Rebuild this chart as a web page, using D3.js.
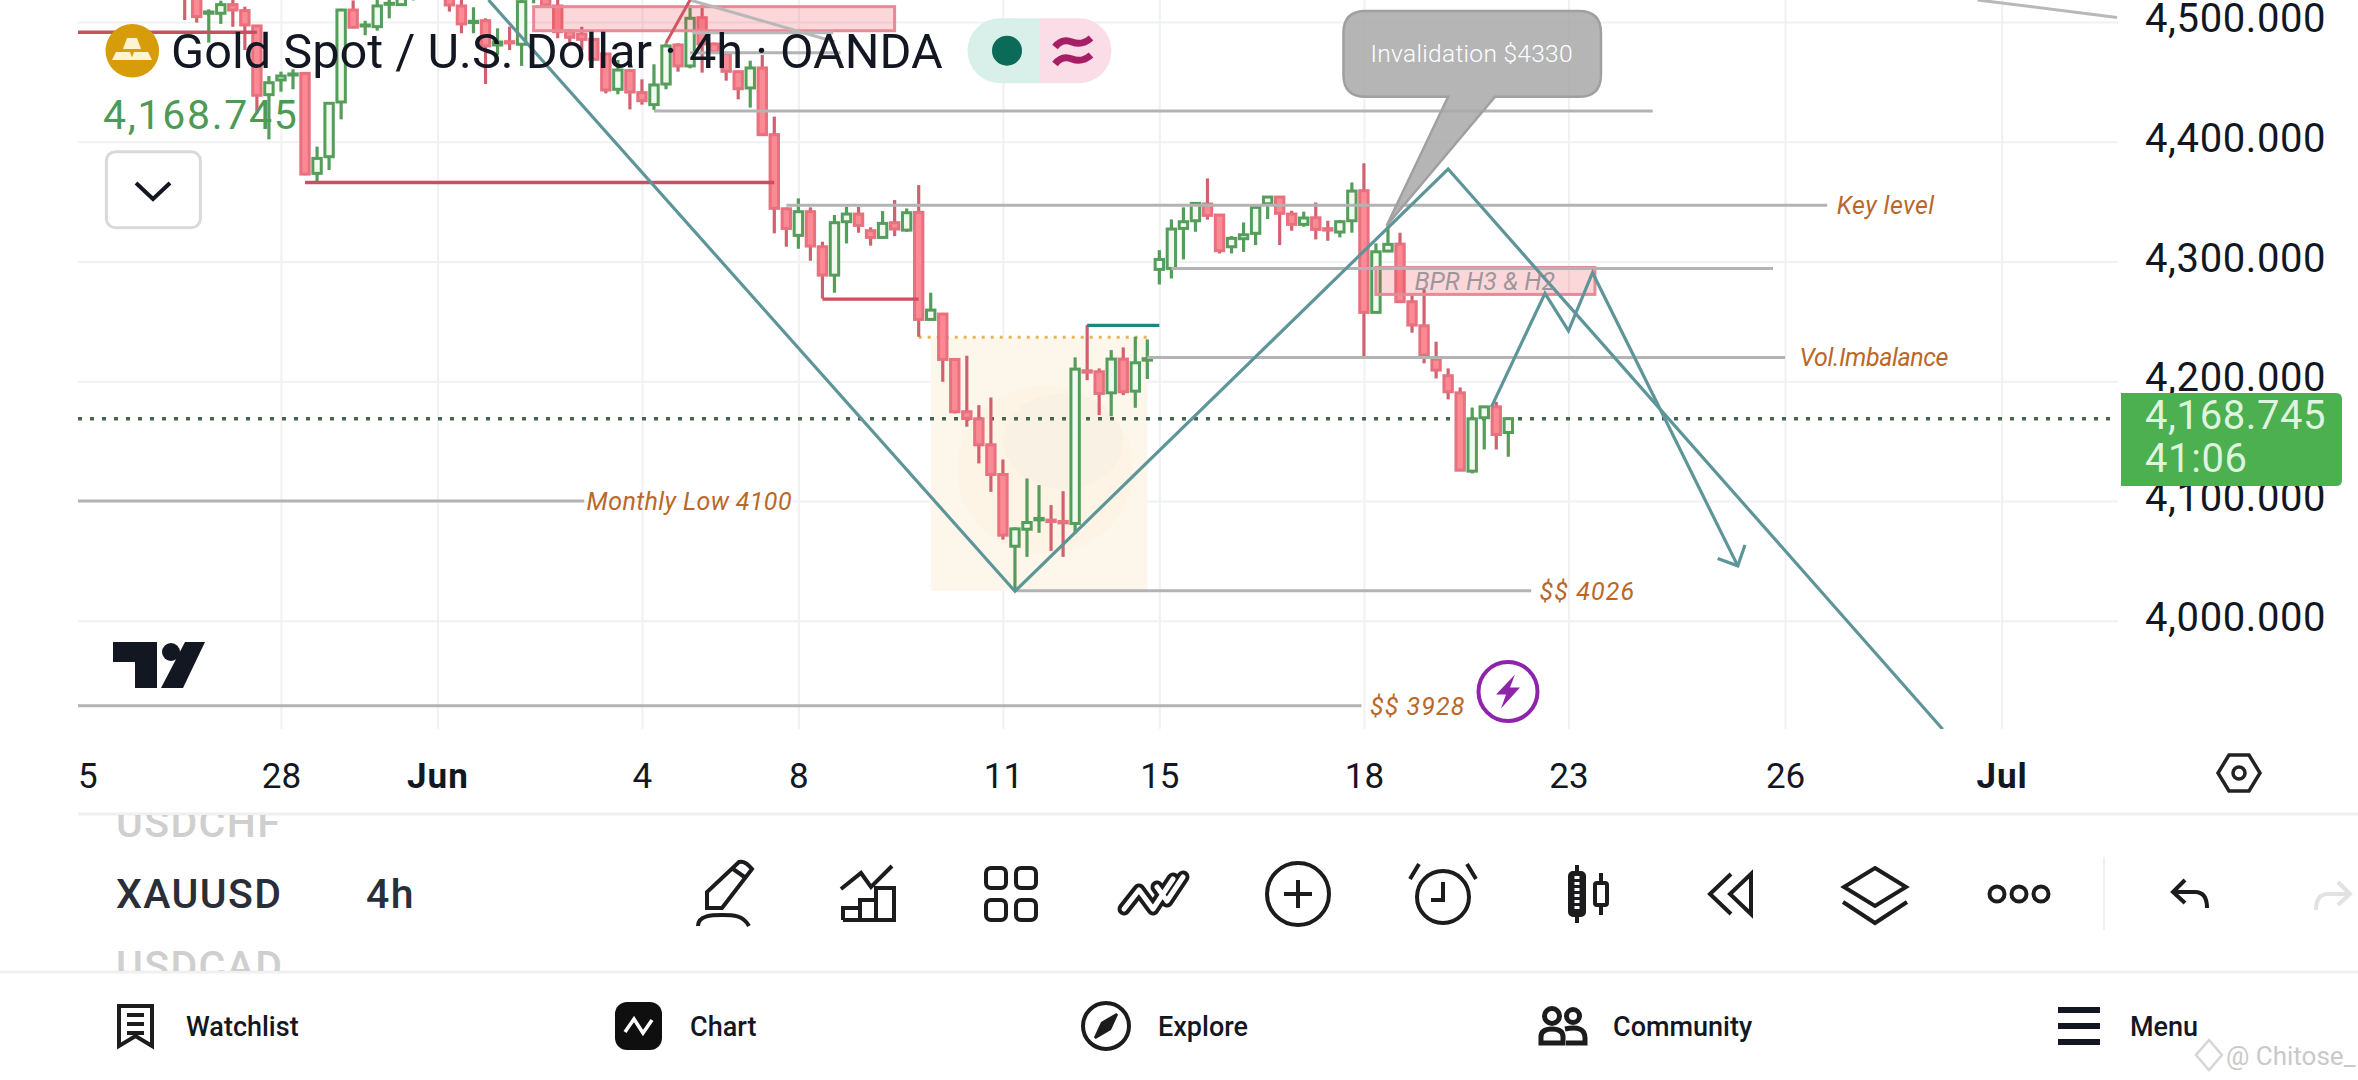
<!DOCTYPE html>
<html>
<head>
<meta charset="utf-8">
<script src="https://cdn.jsdelivr.net/npm/d3@7/dist/d3.min.js"></script>
<style>
  html, body { margin: 0; padding: 0; background: #fff; overflow: hidden; }
  text { font-family: Roboto, sans-serif; }
</style>
</head>
<body>
<div id="chart"></div>
<script>
// candles, 4h bars (bar 0 is the first one on the left)
const opens = [4550,4530,4507.3,4507.3,4514.5,4509.5,4496.7,4439.3,4451.6,4456,4457.1,4373.6,4387.5,4433.2,4510,4497,4496.1,4515,4514.5,4522,4530,4540,4522,4513.4,4499.5,4501.1,4480.8,4483.6,4481.4,4520,4522,4513.4,4492.5,4490,4485.5,4473.3,4443.8,4459.4,4441,4431,4448.2,4480.8,4463.3,4503.6,4481.6,4473.8,4458.5,4444.9,4461.6,4405.9,4344,4321.8,4341.6,4312.3,4288.6,4333.2,4339.6,4325.7,4320.1,4332.4,4326.2,4341,4251.6,4256.1,4218.2,4174.5,4168.6,4146.9,4122.1,4062.2,4076.4,4084.2,4084,4082.8,4081.2,4208.7,4207.9,4190.3,4218.5,4191.7,4217.6,4293.4,4294.2,4327.6,4334,4348,4338.8,4312.3,4319,4323.5,4348.2,4353.8,4339.6,4331,4336.5,4327.4,4324.6,4334,4359.1,4257.5,4308.7,4314.5,4266.4,4246.3,4218.5,4204.6,4190.3,4124.9,4169.5,4178.6,4157.2];
const highs = [4560,4535,4510.6,4517.8,4520,4512.8,4497,4454.9,4458.5,4460.5,4458,4395.9,4433,4511,4518,4501,4519,4522,4530,4535,4545,4548,4530,4520,4512.3,4503.1,4494.7,4496.1,4520,4530,4530,4520,4494,4496,4486.5,4474,4468.3,4460,4452.1,4464.7,4482.2,4482.2,4514.2,4514.2,4482.8,4475.2,4459.4,4467.7,4472.4,4421,4345,4352.7,4345.2,4316.5,4338.8,4345.7,4345.7,4328.5,4342.1,4351.3,4344.3,4363.8,4273.9,4257,4219,4221.3,4180,4186.4,4134.6,4078,4118.8,4113.2,4096.5,4108.2,4219.9,4246.9,4210.7,4226,4228.2,4237.1,4234.9,4309.5,4335.1,4345.2,4349.6,4369.4,4339.4,4321.2,4332.6,4345.7,4354,4354.6,4342.4,4341.6,4349.3,4334,4334.6,4366,4382,4315.1,4330.4,4324,4273.3,4276.7,4233,4210.7,4194.8,4178,4179,4182.8,4170];
const lows = [4501.7,4499.5,4482.8,4498.4,4496,4476.6,4423.7,4402,4441.8,4443.8,4372,4366.6,4376.4,4418.7,4494.8,4489,4492.8,4503.1,4513.4,4518,4525,4528,4508.7,4490.6,4490.6,4448.2,4472.5,4476.6,4463.3,4515.6,4512.8,4486.4,4482.8,4476.6,4468,4440.4,4439.6,4427,4431,4426.5,4443.8,4458.5,4461.3,4457.7,4473.8,4451,4435.4,4428.5,4405.5,4323.5,4312.3,4310.6,4300.6,4269,4273.9,4315.1,4324,4313.2,4319.3,4321.2,4324.8,4237.1,4251,4199.5,4173.1,4162,4131.3,4107.6,4067.8,4025,4053.3,4073.4,4058.3,4053.3,4072.8,4200.9,4171.7,4170.8,4188.4,4177.8,4201.8,4280.8,4285.8,4301.7,4324.8,4335,4306.7,4306.7,4308,4313.7,4335.4,4313.7,4325.7,4329,4318.4,4317.3,4320.1,4324,4221,4256.6,4307.9,4265.8,4240.5,4214.9,4202.3,4184.8,4125,4123,4143,4143,4136.9];
const closes = [4530,4504.5,4508.4,4514.5,4510,4497.5,4438.8,4449.3,4454.9,4456.6,4373,4386.1,4432.1,4510,4495.6,4497.5,4513.4,4515.6,4525,4530,4540,4532,4514.2,4498.4,4500.6,4480,4483.3,4482.5,4517,4524,4514.2,4491.9,4487.2,4485.5,4468.8,4443.2,4459.9,4441.5,4434.3,4447.4,4480,4463.3,4503.1,4481.6,4475.2,4458.8,4444.3,4461.6,4405.9,4344.4,4327.6,4341.6,4312.9,4288.6,4332.4,4339.6,4330.1,4320.1,4331.8,4327.1,4340.7,4251.6,4259.4,4218.2,4174.5,4168.9,4146.9,4122.1,4071.4,4076.7,4082,4085.4,4082.8,4081.7,4210.1,4207.6,4189.8,4218.5,4191.2,4215.4,4218.8,4301.7,4327.1,4333.2,4348.5,4338.5,4309,4319.3,4322.3,4345.2,4353.8,4340.2,4331,4336.3,4326.8,4326.2,4333.2,4358.8,4257.5,4308.1,4314.3,4266.4,4246.9,4221.8,4209.3,4191.2,4125.7,4168.6,4178.6,4155.5,4168.745];

const lastPrice = 4168.745;
const countdown = "41:06";
const priceTicks = [4000, 4100, 4200, 4300, 4400, 4500];
const dateTicks = [-8.1, 8, 21, 38, 51, 68, 81, 98, 115, 133, 151];
const dateLabels = ["5", "28", "Jun", "4", "8", "11", "15", "18", "23", "26", "Jul"];

// drawings, as [bar, price]
const bigZigzag = [[25.25, 4518.4], [69, 4024.6], [105, 4377.2], [146.1, 3909.4]];
const forecast = [[108.6, 4178.6], [113.05, 4273.4], [115, 4242.1], [117, 4290.6], [129.07, 4045.8]];
const forecastHead = [[127.4, 4052], [129.07, 4045.8], [129.67, 4063.2]];
const grayLevels = [
  { from: -9, to: 33.2, price: 4100 },
  { from: 69, to: 111.9, price: 4025 },
  { from: -9, to: 97.8, price: 3929 },
  { from: 50, to: 136.5, price: 4346.9 },
  { from: 82, to: 132, price: 4294.2 },
  { from: 80, to: 133, price: 4219.9 },
  { from: 39, to: 122, price: 4425.6 },
  { from: 42, to: 54.5, price: 4474.4 }
];
const grayLines = [
  [[42, 4518.4], [54, 4483.5]],
  [[42.2, 4491], [53.9, 4491]],
  [[149, 4518.4], [160.6, 4503.8]]
];
const redLevels = [
  { from: -9, to: 6, price: 4491.4 },
  { from: 10, to: 49, price: 4366 },
  { from: 53, to: 61, price: 4268.6 }
];
const redLine = [[40, 4482.5], [42, 4518.4]];
const tealLevel = { from: 75, to: 81, price: 4246.6 };
const dottedLevel = { from: 61, to: 80, price: 4236.8 };
const zones = [
  { from: 29, to: 59, top: 4512.8, bottom: 4492.7 },
  { from: 99, to: 117.2, top: 4295, bottom: 4272.5 }
];
const box = { from: 62, to: 80, top: 4236.5, bottom: 4025 };
const labels = [
  { bar: 33.4, price: 4100, text: "Monthly Low 4100" },
  { bar: 112.6, price: 4025, text: "$$ 4026" },
  { bar: 98.5, price: 3929, text: "$$ 3928" },
  { bar: 137.3, price: 4346.9, text: "Key level" },
  { bar: 134.2, price: 4219.9, text: "Vol.Imbalance" }
];
const zoneLabel = { bar: 102.2, price: 4283.5, text: "BPR H3 & H2" };
const callout = { left: 96.3, right: 117.7, text: "Invalidation $4330", tip: [99.9, 4330] };

const width = 2358, height = 1080;
const plot = { left: 78, right: 2118, top: 0, bottom: 729 };

const x = d3.scaleLinear().domain([0, 110]).range([184.7, 1508.3]);
const y = d3.scaleLinear().domain([4000, 4500]).range([620.7, 22]);
const pt = d => [x(d[0]), y(d[1])];
const line = d3.line().x(d => x(d[0])).y(d => y(d[1]));

const svg = d3.select("#chart").append("svg")
  .attr("width", width).attr("height", height)
  .style("display", "block");

const defs = svg.append("defs");
defs.append("clipPath").attr("id", "plot-clip").append("rect")
  .attr("x", plot.left).attr("y", plot.top)
  .attr("width", plot.right - plot.left).attr("height", plot.bottom - plot.top);
defs.append("clipPath").attr("id", "list-clip").append("rect")
  .attr("x", 0).attr("y", 815).attr("width", 600).attr("height", 156);

// grid
svg.append("g").attr("transform", `translate(0,${plot.bottom})`)
  .call(d3.axisBottom(x).tickValues(dateTicks.slice(1)).tickSize(-(plot.bottom - plot.top)).tickFormat(""))
  .call(g => g.select(".domain").remove())
  .call(g => g.selectAll("line").attr("stroke", "#f0f1f3").attr("stroke-width", 2));
svg.append("g").attr("transform", `translate(${plot.right},0)`)
  .call(d3.axisLeft(y).tickValues(priceTicks).tickSize(plot.right - plot.left).tickFormat(""))
  .call(g => g.select(".domain").remove())
  .call(g => g.selectAll("line").attr("stroke", "#f0f1f3").attr("stroke-width", 2));

const chart = svg.append("g").attr("clip-path", "url(#plot-clip)");

// position box with its faint watermark
chart.append("rect")
  .attr("x", x(box.from)).attr("y", y(box.top))
  .attr("width", x(box.to) - x(box.from)).attr("height", y(box.bottom) - y(box.top))
  .attr("fill", "#fdf6ea");
chart.append("ellipse").attr("cx", x(71.5)).attr("cy", y(4126)).attr("rx", 88).attr("ry", 84)
  .attr("fill", "#fcf4e2").attr("opacity", 0.7);
chart.append("ellipse").attr("cx", x(73)).attr("cy", y(4150)).attr("rx", 60).attr("ry", 48)
  .attr("fill", "#f9f2e4");

// dotted levels sit under the candles
chart.append("line")
  .attr("x1", x(dottedLevel.from)).attr("x2", x(dottedLevel.to))
  .attr("y1", y(dottedLevel.price)).attr("y2", y(dottedLevel.price))
  .attr("stroke", "#e6b45c").attr("stroke-width", 3).attr("stroke-dasharray", "3 6");
chart.append("line")
  .attr("x1", plot.left).attr("x2", plot.right)
  .attr("y1", y(lastPrice)).attr("y2", y(lastPrice))
  .attr("stroke", "#44664f").attr("stroke-width", 3.5).attr("stroke-dasharray", "4 8");

// candles
const candles = opens.map((o, i) => ({ i, o, h: highs[i], l: lows[i], c: closes[i], up: closes[i] >= opens[i] }));
const bars = chart.append("g").selectAll("g").data(candles).join("g");
bars.append("line")
  .attr("x1", d => x(d.i)).attr("x2", d => x(d.i))
  .attr("y1", d => y(d.h)).attr("y2", d => y(d.l))
  .attr("stroke", d => d.up ? "#549d5a" : "#d0626f")
  .attr("stroke-width", 3.2);
bars.append("rect")
  .attr("x", d => x(d.i) - 4.2).attr("width", 8.4)
  .attr("y", d => y(Math.max(d.o, d.c)))
  .attr("height", d => Math.max(1, Math.abs(y(d.o) - y(d.c))))
  .attr("fill", d => d.up ? "#f1faee" : "#fb8a94")
  .attr("stroke", d => d.up ? "#549d5a" : "#e7717e")
  .attr("stroke-width", 3);

// zones
chart.append("g").selectAll("rect").data(zones).join("rect")
  .attr("x", d => x(d.from)).attr("y", d => y(d.top))
  .attr("width", d => x(d.to) - x(d.from)).attr("height", d => y(d.bottom) - y(d.top))
  .attr("fill", "#f23645").attr("fill-opacity", 0.2)
  .attr("stroke", "#e58a96").attr("stroke-width", 3);

// level lines
chart.append("g").selectAll("line").data(grayLevels).join("line")
  .attr("x1", d => x(d.from)).attr("x2", d => x(d.to))
  .attr("y1", d => y(d.price)).attr("y2", d => y(d.price))
  .attr("stroke", "#b3b3b3").attr("stroke-width", 3);
chart.append("g").selectAll("path").data(grayLines).join("path")
  .attr("d", line).attr("fill", "none")
  .attr("stroke", "#b8b8b8").attr("stroke-width", 3);
chart.append("g").selectAll("line").data(redLevels).join("line")
  .attr("x1", d => x(d.from)).attr("x2", d => x(d.to))
  .attr("y1", d => y(d.price)).attr("y2", d => y(d.price))
  .attr("stroke", "#c9515f").attr("stroke-width", 3.4);
chart.append("path").attr("d", line(redLine)).attr("fill", "none")
  .attr("stroke", "#d0565f").attr("stroke-width", 3);
chart.append("line")
  .attr("x1", x(tealLevel.from)).attr("x2", x(tealLevel.to))
  .attr("y1", y(tealLevel.price)).attr("y2", y(tealLevel.price))
  .attr("stroke", "#1f8682").attr("stroke-width", 3.4);

// teal paths
chart.append("g").selectAll("path").data([bigZigzag, forecast, forecastHead]).join("path")
  .attr("d", line).attr("fill", "none")
  .attr("stroke", "#5d9599").attr("stroke-width", 3.2).attr("stroke-linejoin", "miter");

// text labels on levels
chart.append("text")
  .attr("x", x(zoneLabel.bar)).attr("y", y(zoneLabel.price)).attr("dy", "0.36em")
  .attr("fill", "#8e8a90").attr("fill-opacity", 0.85)
  .attr("font-size", 25).attr("font-style", "italic")
  .text(zoneLabel.text);
chart.append("g").selectAll("text").data(labels).join("text")
  .attr("x", d => x(d.bar)).attr("y", d => y(d.price)).attr("dy", "0.36em")
  .attr("fill", "#b9682a").attr("font-size", 25).attr("font-style", "italic")
  .attr("letter-spacing", d => d.text.startsWith("$$") ? 1.1 : d.text.startsWith("Vol") ? -0.4 : 0.4)
  .text(d => d.text);

// callout
const cl = x(callout.left), cr = x(callout.right), ct = 11, cb = 96.7, r = 22;
const tip = pt(callout.tip);
const tailL = x(105), tailR = x(108.9);
chart.append("path")
  .attr("d", `M${cl + r},${ct} H${cr - r} Q${cr},${ct} ${cr},${ct + r} V${cb - r} Q${cr},${cb} ${cr - r},${cb} H${tailR} L${tip[0]},${tip[1]} L${tailL},${cb} H${cl + r} Q${cl},${cb} ${cl},${cb - r} V${ct + r} Q${cl},${ct} ${cl + r},${ct} Z`)
  .attr("fill", "#a8a8a8").attr("fill-opacity", 0.85)
  .attr("stroke", "#a0a0a0").attr("stroke-width", 2.5);
chart.append("text")
  .attr("x", (cl + cr) / 2 - 0.5).attr("y", 53).attr("dy", "0.36em")
  .attr("text-anchor", "middle").attr("fill", "#fff").attr("font-size", 24.5).attr("font-family", "Inter, sans-serif")
  .attr("font-weight", 300).attr("letter-spacing", 0.3)
  .text(callout.text);

// price axis
const priceAxis = svg.append("g").attr("transform", "translate(2145,0)")
  .call(d3.axisRight(y).tickValues(priceTicks).tickSize(0).tickPadding(0).tickFormat(d3.format(",.3f")))
  .call(g => g.select(".domain").remove());
priceAxis.selectAll("text")
  .attr("font-size", 40).attr("fill", "#131722").attr("font-family", "Roboto, sans-serif")
  .attr("letter-spacing", 0.6).attr("dy", "0.24em");

// date axis
const dateAxis = svg.append("g").attr("transform", "translate(0,775)")
  .call(d3.axisBottom(x).tickValues(dateTicks).tickSize(0).tickPadding(0)
    .tickFormat((d, i) => dateLabels[i]))
  .call(g => g.select(".domain").remove());
dateAxis.selectAll("text")
  .attr("font-size", 35).attr("fill", "#131722").attr("font-family", "Roboto, sans-serif")
  .attr("dy", "0.36em").attr("y", 0)
  .attr("letter-spacing", (d, i) => /[A-Z]/.test(dateLabels[i]) ? 1 : 0)
  .attr("font-weight", (d, i) => /[A-Z]/.test(dateLabels[i]) ? 700 : 400);

// last price tag
svg.append("path")
  .attr("d", "M2121,393 H2336 Q2342,393 2342,399 V480 Q2342,486 2336,486 H2121 Z")
  .attr("fill", "#4caf50");
svg.append("text").attr("x", 2145).attr("y", 415).attr("dy", "0.36em")
  .attr("font-size", 40).attr("fill", "#dff3df").attr("letter-spacing", 0.6)
  .text(d3.format(",.3f")(lastPrice));
svg.append("text").attr("x", 2145).attr("y", 458).attr("dy", "0.36em")
  .attr("font-size", 40).attr("fill", "#dff3df").attr("letter-spacing", 0.6)
  .text(countdown);

// legend
const legend = svg.append("g");
legend.append("circle").attr("cx", 132.3).attr("cy", 50.7).attr("r", 26.8).attr("fill", "#d79c0a");
legend.append("path").attr("fill", "#fff4cf")
  .attr("d", "M127,38 H137 L141,49 H123 Z M116,52 H130 L133,60 H112 Z M134,52 H148 L152,60 H131 Z");
legend.append("text").attr("x", 171).attr("y", 68)
  .attr("font-size", 48.7).attr("font-family", "Inter, sans-serif").attr("fill", "#131722")
  .text("Gold Spot / U.S. Dollar · 4h · OANDA");
legend.append("text").attr("x", 103).attr("y", 129)
  .attr("font-size", 41).attr("fill", "#4c9a55").attr("letter-spacing", 1.7)
  .text(d3.format(",.3f")(lastPrice));
legend.append("rect").attr("x", 106.4).attr("y", 151.7).attr("width", 94).attr("height", 76).attr("rx", 9)
  .attr("fill", "#fff").attr("stroke", "#d9d9d9").attr("stroke-width", 3);
legend.append("path").attr("d", "M136,183 L153,199 L170,183").attr("fill", "none")
  .attr("stroke", "#131722").attr("stroke-width", 4);

// status pill
legend.append("path").attr("d", "M1040,18.3 H1000 A32.5,32.5 0 0 0 1000,83.3 H1040 Z").attr("fill", "#d9f0ea");
legend.append("path").attr("d", "M1040,18.3 H1079 A32.5,32.5 0 0 1 1079,83.3 H1040 Z").attr("fill", "#fbdde7");
legend.append("circle").attr("cx", 1007).attr("cy", 50.7).attr("r", 15).attr("fill", "#0b6b58");
legend.append("path")
  .attr("d", "M1055,47 Q1062,38 1072,42 Q1082,46 1091,38 M1055,64 Q1062,55 1072,59 Q1082,63 1091,55")
  .attr("fill", "none").attr("stroke", "#a61e66").attr("stroke-width", 7);

// tradingview mark
const tv = svg.append("g").attr("transform", "translate(113,642)").attr("fill", "#131722");
tv.append("path").attr("d", "M0,0 H44 V46 H22 V20 H0 Z");
tv.append("circle").attr("cx", 58).attr("cy", 10).attr("r", 9);
tv.append("path").attr("d", "M72,0 H92 L70,46 H48 Z");

// lightning badge
const bolt = svg.append("g").attr("transform", "translate(1508,691.5)");
bolt.append("circle").attr("r", 29.5).attr("fill", "#fff").attr("stroke", "#8e24aa").attr("stroke-width", 4);
bolt.append("path").attr("d", "M7,-17 L-12,3 H-2 L-7,17 L12,-4 H2 Z").attr("fill", "#8e24aa");

// settings hexagon
const hex = svg.append("g").attr("transform", "translate(2239,773)").attr("fill", "none").attr("stroke", "#222").attr("stroke-width", 3.5);
hex.append("path").attr("d", "M-10,-18 L10,-18 L21,0 L10,18 L-10,18 L-21,0 Z");
hex.append("circle").attr("r", 6);

// separators
svg.append("line").attr("x1", 78).attr("x2", width).attr("y1", 814).attr("y2", 814).attr("stroke", "#f0f0f0").attr("stroke-width", 3);
svg.append("line").attr("x1", 0).attr("x2", width).attr("y1", 972).attr("y2", 972).attr("stroke", "#f0f0f0").attr("stroke-width", 3);
svg.append("line").attr("x1", 2104).attr("x2", 2104).attr("y1", 857).attr("y2", 930).attr("stroke", "#f0f0f0").attr("stroke-width", 2);

// symbol picker
const picker = svg.append("g").attr("clip-path", "url(#list-clip)").attr("font-size", 41).attr("font-weight", 500).attr("letter-spacing", 1.4);
picker.append("text").attr("x", 116).attr("y", 837).attr("fill", "#cfcfcf").text("USDCHF");
picker.append("text").attr("x", 116).attr("y", 980).attr("fill", "#cfcfcf").text("USDCAD");
picker.append("text").attr("x", 116).attr("y", 908).attr("fill", "#2a2e39").text("XAUUSD");
picker.append("text").attr("x", 366).attr("y", 908).attr("fill", "#2a2e39").text("4h");

// toolbar icons
const ink = "#1c1c1e";
const tool = (tx, ty) => svg.append("g").attr("transform", `translate(${tx},${ty})`)
  .attr("fill", "none").attr("stroke", ink).attr("stroke-width", 4);

const pencil = tool(725, 895);
pencil.append("path").attr("d", "M-18,13 L-18,-3 L14,-33 Q20,-35 27,-26 L-3,13 Z");
pencil.append("path").attr("d", "M8,-26 L21,-17");
pencil.append("path").attr("d", "M-27,31 C-27,20 -12,20 -3,20 C8,20 18,20 24,31");

const indicators = tool(868, 895);
indicators.append("path").attr("d", "M-27,-6 L-7,-22 L3,-8 L24,-29");
indicators.append("path").attr("d", "M-25,25 V13 H-8 V25 M-8,25 V5 H8 V25 M8,25 V-7 H26 V25 H-25");

const layout = tool(1011, 894);
[[-25, -26], [5, -26], [-25, 6], [5, 6]].forEach(p => layout.append("rect")
  .attr("x", p[0]).attr("y", p[1]).attr("width", 20).attr("height", 20).attr("rx", 5));

const templates = svg.append("g").attr("transform", "translate(1153,893)").attr("fill", "none");
templates.append("path").attr("d", "M-29,16 L-14,-3 L0,16 L20,-14 M4,-6 L14,8 L30,-16")
  .attr("stroke", ink).attr("stroke-width", 13).attr("stroke-linejoin", "round").attr("stroke-linecap", "round");
templates.append("path").attr("d", "M-29,16 L-14,-3 L0,16 L20,-14 M4,-6 L14,8 L30,-16")
  .attr("stroke", "#fff").attr("stroke-width", 5).attr("stroke-linejoin", "round").attr("stroke-linecap", "round");

const add = tool(1298, 894);
add.append("circle").attr("r", 31);
add.append("path").attr("d", "M-14,0 H14 M0,-14 V14");

const alarm = tool(1443, 897);
alarm.append("circle").attr("r", 26);
alarm.append("path").attr("d", "M0,-15 V3 H-12");
alarm.append("path").attr("d", "M-33,-18 L-24,-33 M33,-18 L24,-33");

const barStyle = tool(1587, 894);
barStyle.append("path").attr("d", "M-10,-29 V29 M14,-21 V21");
barStyle.append("rect").attr("x", -17).attr("y", -21).attr("width", 14).attr("height", 42).attr("rx", 3).attr("fill", ink);
barStyle.append("path").attr("d", "M-10,-18 V18").attr("stroke", "#fff").attr("stroke-width", 5).attr("stroke-dasharray", "3 3");
barStyle.append("rect").attr("x", 8).attr("y", -11).attr("width", 12).attr("height", 22).attr("rx", 2).attr("fill", "#fff");

const replay = tool(1730, 894);
replay.append("path").attr("d", "M1,-20 L-20,0 L1,20");
replay.append("path").attr("d", "M21,-20 L0,0 L21,20 Z");

const layers = tool(1875, 894);
layers.append("path").attr("d", "M0,-26 L31,-7 L0,12 L-31,-7 Z");
layers.append("path").attr("d", "M-32,8 L0,29 L32,8");

const more = tool(2019, 894);
[-22, 0, 22].forEach(c => more.append("circle").attr("cx", c).attr("r", 7.5));

const undo = tool(2190, 893);
undo.append("path").attr("d", "M-5,-13 L-17,-1 L-5,10 M-17,-1 H5 Q17,-1 17,15");
const redo = tool(2333, 895).attr("stroke", "#e2e2e2");
redo.append("path").attr("d", "M5,-13 L17,-1 L5,10 M17,-1 H-5 Q-17,-1 -17,15");

// bottom navigation
const navNames = ["Watchlist", "Chart", "Explore", "Community", "Menu"];
const navX = [186, 690, 1158, 1613, 2130];
svg.append("g").selectAll("text").data(navNames).join("text")
  .attr("x", (d, i) => navX[i]).attr("y", 1026).attr("dy", "0.36em")
  .attr("font-size", 27).attr("font-weight", 500).attr("fill", "#131722")
  .text(d => d);

const watch = tool(0, 0);
watch.append("path").attr("d", "M119,1006 H152 V1046 L135.5,1036 L119,1046 Z");
watch.append("path").attr("d", "M127,1015 H144 M127,1024 H144 M127,1033 H144");
svg.append("rect").attr("x", 615).attr("y", 1002).attr("width", 47).attr("height", 48).attr("rx", 12).attr("fill", "#0f0f10");
svg.append("path").attr("d", "M625,1032 L634,1019 L643,1033 L652,1020").attr("fill", "none").attr("stroke", "#fff").attr("stroke-width", 3.5);
const compass = tool(1106, 1026);
compass.append("circle").attr("r", 23);
compass.append("path").attr("d", "M11,-12 L-11,12 L-4,-3 Z M11,-12 L-11,12 L4,3 Z").attr("stroke-width", 2.5).attr("fill", ink);
const people = tool(0, 0).attr("stroke-width", 5);
people.append("circle").attr("cx", 1552).attr("cy", 1016).attr("r", 7.5);
people.append("circle").attr("cx", 1573).attr("cy", 1016).attr("r", 6.5);
people.append("path").attr("d", "M1541,1043 V1037 Q1541,1029 1552,1029 Q1563,1029 1563,1037 V1043 Z");
people.append("path").attr("d", "M1565,1029 Q1585,1025 1585,1038 V1043 H1566");
const menuBars = svg.append("g").attr("fill", "#131722");
[1010, 1026, 1042].forEach(v => menuBars.append("rect").attr("x", 2058).attr("y", v - 3).attr("width", 42).attr("height", 6));

// watermark
svg.append("text").attr("x", 2226).attr("y", 1056).attr("dy", "0.36em")
  .attr("font-size", 26).attr("fill", "#c9c9c9").text("@ Chitose_");
svg.append("path").attr("d", "M2209,1040 L2222,1055 L2209,1070 L2196,1055 Z").attr("fill", "none").attr("stroke", "#d6d6d6").attr("stroke-width", 2.5);
</script>
</body>
</html>
